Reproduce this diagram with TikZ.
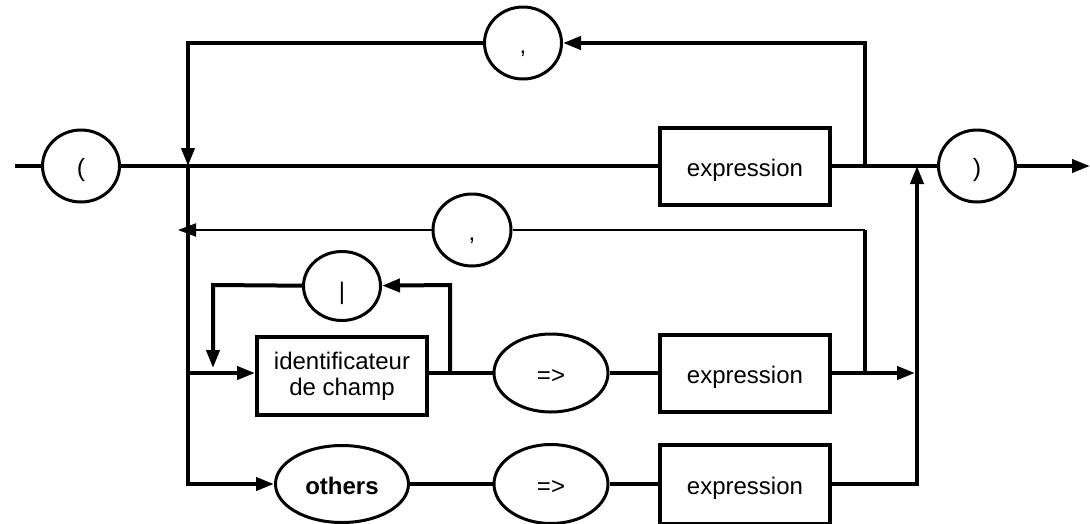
\documentclass[tikz,border=0pt]{standalone}
\usepackage{fontspec}
\setmainfont{Liberation Sans}
\usetikzlibrary{shapes.geometric,arrows.meta}
\begin{document}
\begin{tikzpicture}[x=1pt,y=-1pt,
  fnt/.style={font=\fontsize{24pt}{26pt}\selectfont},
  oneline/.style={text height=20pt, text depth=0pt},
  term/.style={fnt, oneline, draw, ellipse, line width=3pt, inner sep=0pt, minimum width=77pt, minimum height=72pt},
  nonterm/.style={fnt, draw, rectangle, line width=4pt, inner sep=0pt, minimum width=170pt, minimum height=77pt},
  wire/.style={line width=4pt},
  thinwire/.style={line width=2pt},
  arr/.style={-{Triangle[length=18pt,width=13pt]}},
]
\useasboundingbox (0,0) rectangle (1090,523);

% nodes
\node[term, font=\fontsize{25pt}{27pt}\selectfont] (lp) at (81,166) {(};
\node[term] (c1) at (523,43) {,};
\node[nonterm, oneline] (e1) at (745,166) {expression};
\node[term, font=\fontsize{25pt}{27pt}\selectfont] (rp) at (977,166) {)};
\node[term, minimum width=78pt] (c2) at (472,230) {,};
\node[term, text height=26pt, minimum height=69pt] (bar) at (342,286) {|};
\node[nonterm, align=center, minimum height=78pt] (id) at (342,376) {identificateur\\de champ};
\node[term, minimum width=114pt, minimum height=78pt] (ar3) at (551,373) {=>};
\node[nonterm, oneline] (e3) at (745,373) {expression};
\node[term, font=\bfseries\fontsize{24pt}{26pt}\selectfont, minimum width=133pt, minimum height=77pt] (oth) at (342,484) {others};
\node[term, minimum width=114pt, minimum height=79pt] (ar4) at (551,484) {=>};
\node[nonterm, oneline, minimum height=79pt] (e4) at (745,484) {expression};

% coordinates
\coordinate (start) at (15,166);
\coordinate (jL) at (188,166);
\coordinate (tl) at (188,43);
\coordinate (tr) at (865,43);
\coordinate (jR) at (865,166);
\coordinate (jE) at (917,166);
\coordinate (end) at (1090,166);
\coordinate (r2r) at (865,230);
\coordinate (r2tip) at (178,230);
\coordinate (r3L) at (188,373);
\coordinate (r3R) at (865,373);
\coordinate (r3tip) at (915,373);
\coordinate (lb) at (213,285);
\coordinate (lbtip) at (213,368);
\coordinate (lj) at (450,373);
\coordinate (lt) at (450,285);
\coordinate (r4L) at (188,484);
\coordinate (r4R) at (917,484);

% main line
\draw[wire] (start) -- (lp);
\draw[wire] (lp) -- (e1);
\draw[wire] (e1) -- (rp);
\draw[wire,arr] (rp) -- (end);
% top loop
\draw[wire,arr] (jR) -- (tr) -- (c1);
\draw[wire,arr] (c1) -- (tl) -- (jL);
% left trunk
\draw[wire,arr] (jL) -- (r4L) -- (oth);
% second loop
\draw[thinwire] (c2) -- (r2r);
\draw[wire] (r2r) -- (r3R);
\draw[thinwire,arr] (c2) -- (r2tip);
% row 3
\draw[wire,arr] (r3L) -- (id.west |- r3L);
\draw[wire] (id.east |- r3L) -- (ar3);
\draw[wire,arr] (lj) -- (lt) -- (bar);
\draw[wire,arr] (bar) -- (lb) -- (lbtip);
\draw[wire] (ar3) -- (e3);
\draw[wire,arr] (e3) -- (r3tip);
% row 4
\draw[wire] (oth) -- (ar4);
\draw[wire] (ar4) -- (e4);
\draw[wire,arr] (e4) -- (r4R) -- (jE);
\end{tikzpicture}
\end{document}
